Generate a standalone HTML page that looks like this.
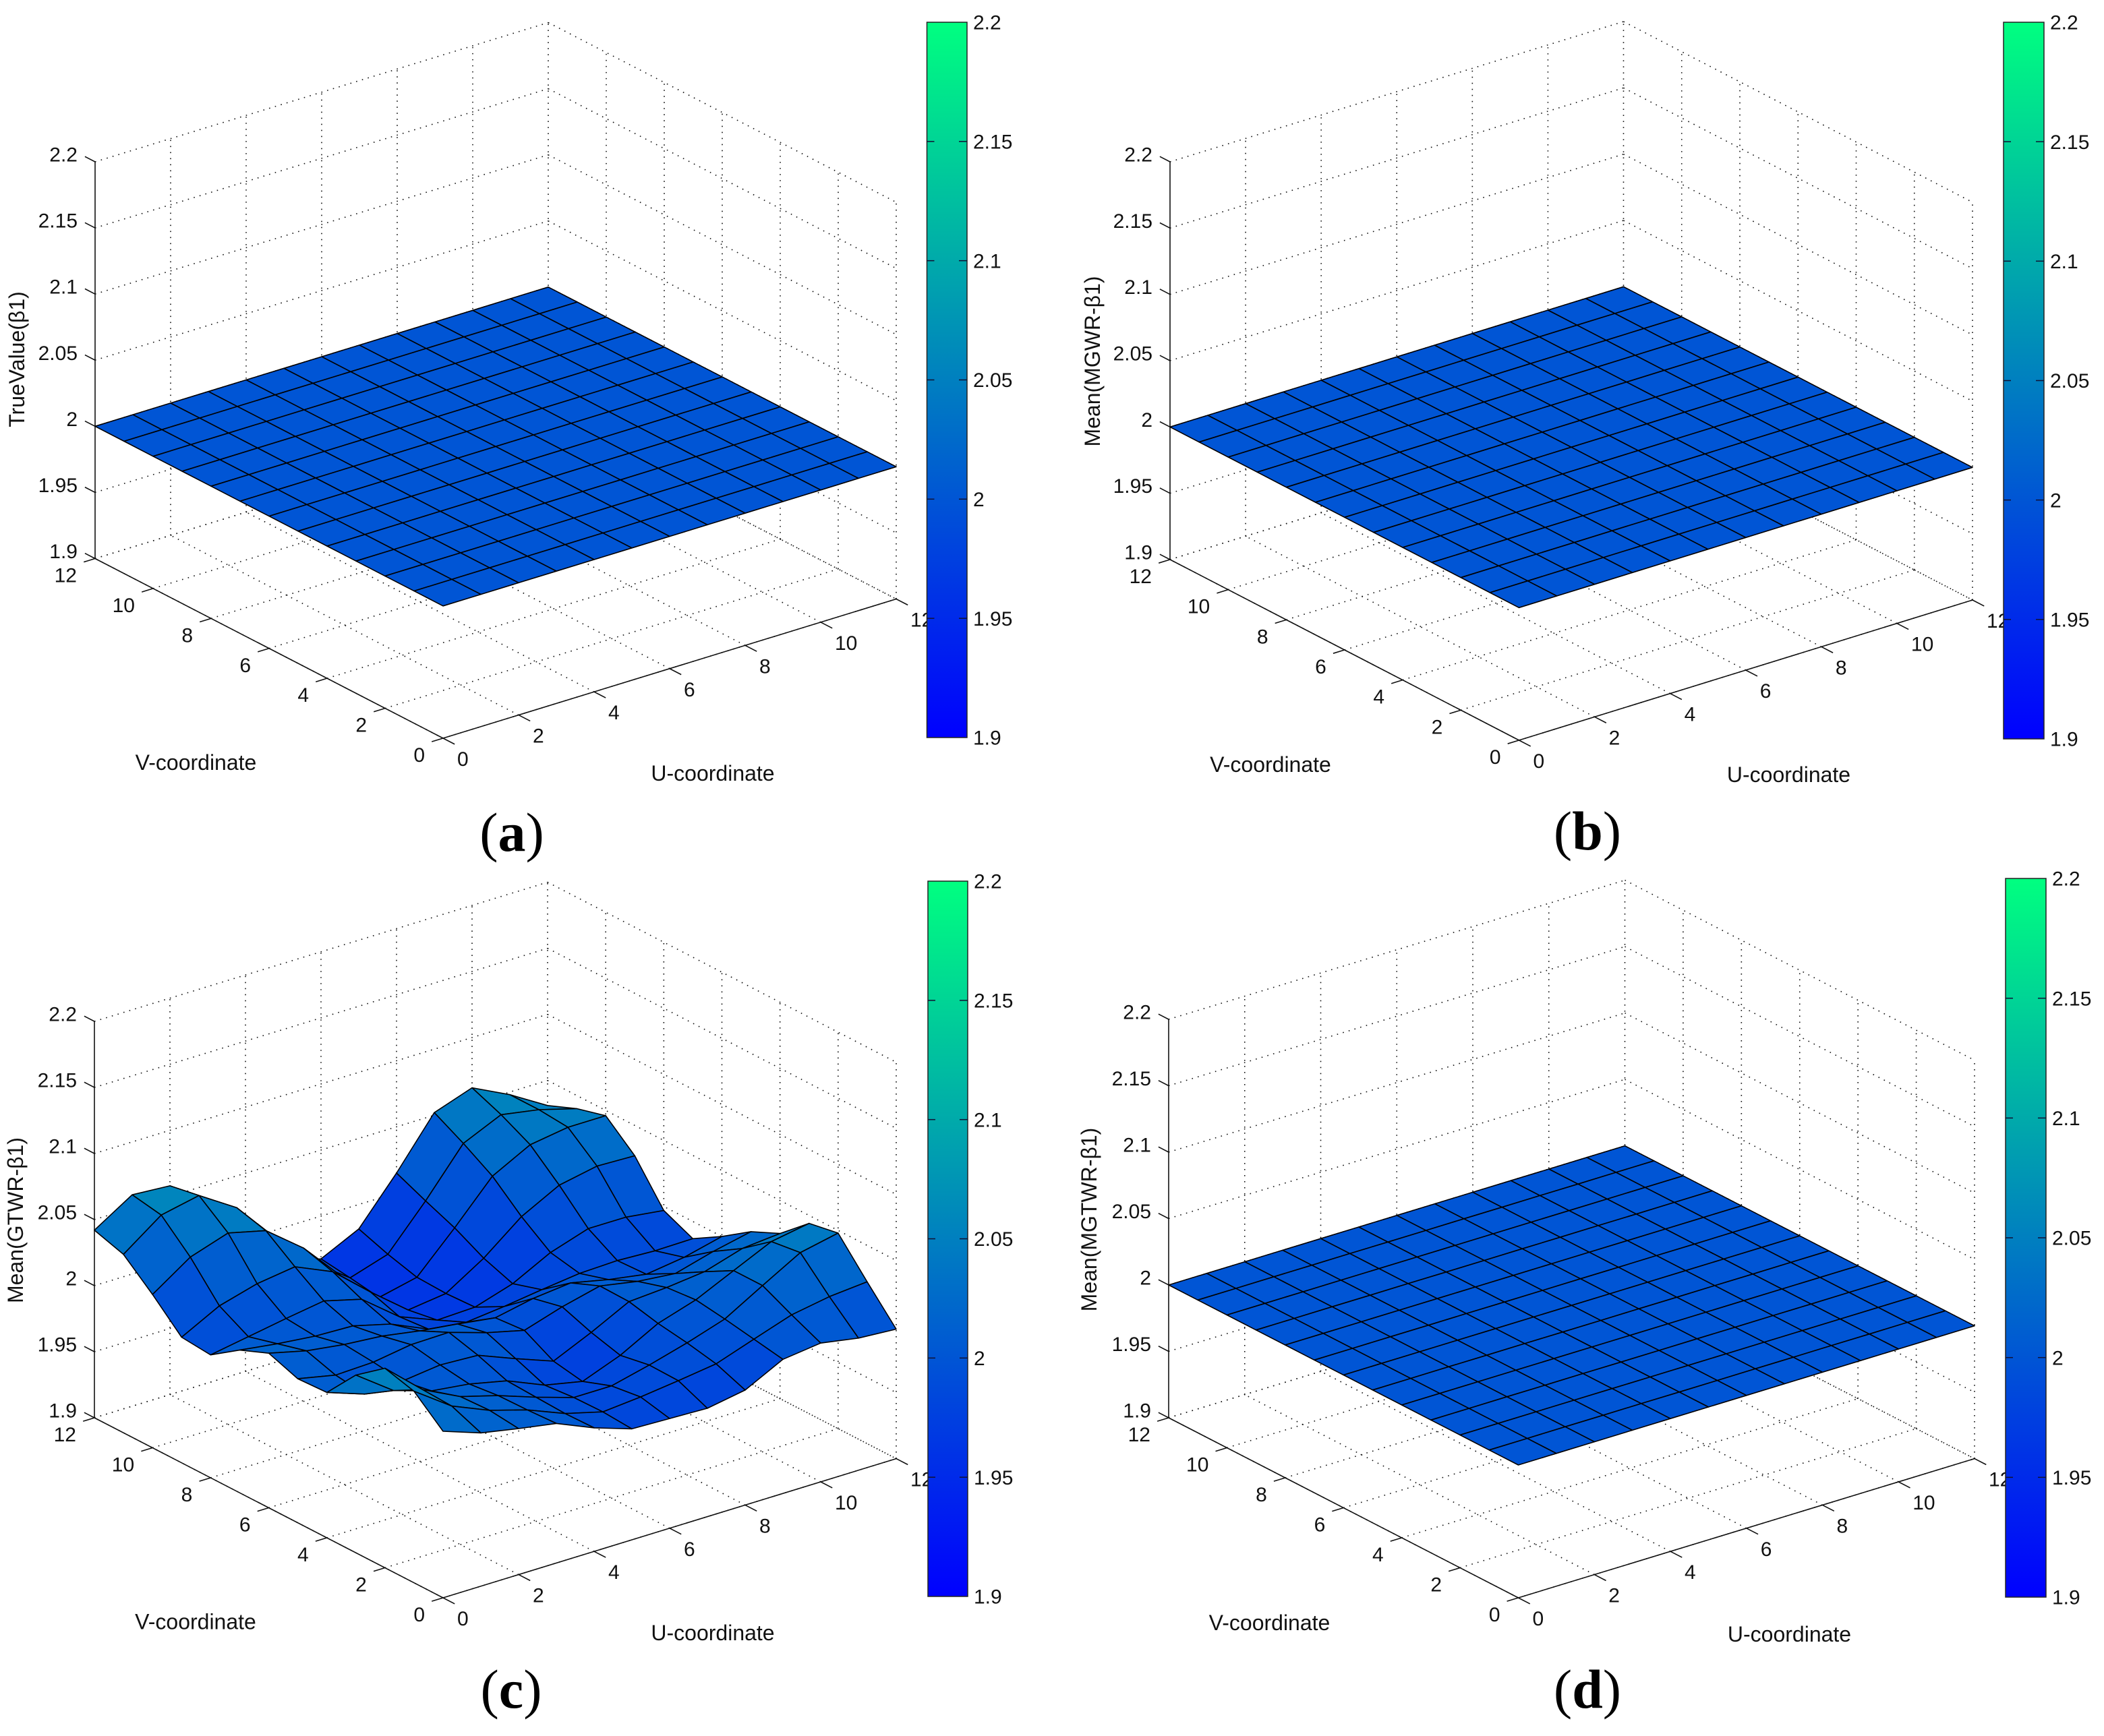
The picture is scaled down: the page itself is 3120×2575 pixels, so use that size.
<!DOCTYPE html>
<html lang="en">
<head>
<meta charset="utf-8">
<title>Surface plots of beta1 estimates</title>
<style>
html,body{margin:0;padding:0;background:#fff;}
svg{display:block;}
text{font-family:"Liberation Sans",Arial,sans-serif;fill:#111;}
.tick{font-size:30px;}
.title{font-size:32px;}
.cap{font-family:"Liberation Serif",serif;font-size:82px;fill:#000;}
.cap .l{font-weight:bold;}
</style>
</head>
<body>
<svg xmlns="http://www.w3.org/2000/svg" width="3120" height="2575" viewBox="0 0 3120 2575">
<defs>
<linearGradient id="winter" x1="0" y1="1" x2="0" y2="0">
<stop offset="0" stop-color="rgb(0,0,255)"/>
<stop offset="1" stop-color="rgb(0,255,128)"/>
</linearGradient>
</defs>

<g id="panel-a">
<g class="plot"></g>
<g class="bar"></g>
<text class="title" x="290.5" y="1142" text-anchor="middle">V-coordinate</text>
<text class="title" x="1057" y="1158" text-anchor="middle">U-coordinate</text>
<text class="title" transform="translate(36,533) rotate(-90)" text-anchor="middle">TrueValue(β1)</text>
<text class="cap" x="759" y="1262" text-anchor="middle">(<tspan class="l">a</tspan>)</text>
</g>

<g id="panel-b">
<g class="plot"></g>
<g class="bar"></g>
<text class="title" x="1884" y="1145" text-anchor="middle">V-coordinate</text>
<text class="title" x="2652.5" y="1160" text-anchor="middle">U-coordinate</text>
<text class="title" transform="translate(1631,536) rotate(-90)" text-anchor="middle">Mean(MGWR-β1)</text>
<text class="cap" x="2354" y="1260" text-anchor="middle">(<tspan class="l">b</tspan>)</text>
</g>

<g id="panel-c">
<g class="plot"></g>
<g class="bar"></g>
<text class="title" x="290" y="2416.5" text-anchor="middle">V-coordinate</text>
<text class="title" x="1057" y="2433" text-anchor="middle">U-coordinate</text>
<text class="title" transform="translate(34,1810) rotate(-90)" text-anchor="middle">Mean(GTWR-β1)</text>
<text class="cap" x="758" y="2533" text-anchor="middle">(<tspan class="l">c</tspan>)</text>
</g>

<g id="panel-d">
<g class="plot"></g>
<g class="bar"></g>
<text class="title" x="1882.5" y="2418" text-anchor="middle">V-coordinate</text>
<text class="title" x="2653.5" y="2435" text-anchor="middle">U-coordinate</text>
<text class="title" transform="translate(1626,1809) rotate(-90)" text-anchor="middle">Mean(MGTWR-β1)</text>
<text class="cap" x="2354" y="2533" text-anchor="middle">(<tspan class="l">d</tspan>)</text>
</g>
</svg>

<script>
// Axis ticks
const uTicks = [0, 2, 4, 6, 8, 10, 12];
const vTicks = [0, 2, 4, 6, 8, 10, 12];
const zTicks = [1.9, 1.95, 2, 2.05, 2.1, 2.15, 2.2];
const zTickLabels = ['1.9', '1.95', '2', '2.05', '2.1', '2.15', '2.2'];

// Surface values: one row per U = 0..12, one entry per V = 12..0
const trueBeta = [
[2,2,2,2,2,2,2,2,2,2,2,2,2],[2,2,2,2,2,2,2,2,2,2,2,2,2],[2,2,2,2,2,2,2,2,2,2,2,2,2],
[2,2,2,2,2,2,2,2,2,2,2,2,2],[2,2,2,2,2,2,2,2,2,2,2,2,2],[2,2,2,2,2,2,2,2,2,2,2,2,2],
[2,2,2,2,2,2,2,2,2,2,2,2,2],[2,2,2,2,2,2,2,2,2,2,2,2,2],[2,2,2,2,2,2,2,2,2,2,2,2,2],
[2,2,2,2,2,2,2,2,2,2,2,2,2],[2,2,2,2,2,2,2,2,2,2,2,2,2],[2,2,2,2,2,2,2,2,2,2,2,2,2],
[2,2,2,2,2,2,2,2,2,2,2,2,2]
];
const mgwrBeta = [
[2,2,2,2,2,2,2,2,2,2,2,2,2],[2,2,2,2,2,2,2,2,2,2,2,2,2],[2,2,2,2,2,2,2,2,2,2,2,2,2],
[2,2,2,2,2,2,2,2,2,2,2,2,2],[2,2,2,2,2,2,2,2,2,2,2,2,2],[2,2,2,2,2,2,2,2,2,2,2,2,2],
[2,2,2,2,2,2,2,2,2,2,2,2,2],[2,2,2,2,2,2,2,2,2,2,2,2,2],[2,2,2,2,2,2,2,2,2,2,2,2,2],
[2,2,2,2,2,2,2,2,2,2,2,2,2],[2,2,2,2,2,2,2,2,2,2,2,2,2],[2,2,2,2,2,2,2,2,2,2,2,2,2],
[2,2,2,2,2,2,2,2,2,2,2,2,2]
];
const gtwrBeta = [
[2.042,2.035,2.016,1.995,1.993,2.008,2.017,2.009,2.010,2.0345,2.051,2.045,2.026],
[2.060,2.056,2.0355,2.010,1.998,2.004,2.010,2.003,2.000,2.014,2.026,2.025,2.016],
[2.058,2.062,2.045,2.018,2.003,2.001,2.006,2.004,2.001,2.005,2.012,2.013,2.0105],
[2.030,2.044,2.038,2.022,2.0075,2.000,2.0036,2.0085,2.0045,2.0014,2.004,2.0045,2.0056],
[2.000,2.013,2.016,2.0095,2.000,1.9926,1.9988,2.009,2.003,1.995,1.994,1.993,1.9935],
[1.975,1.985,1.986,1.9854,1.978,1.980,1.9952,2.000,1.9917,1.983,1.985,1.9855,1.984],
[1.9676,1.9646,1.9611,1.963,1.9667,1.9764,1.9911,1.993,1.981,1.977,1.985,1.988,1.983],
[1.9815,1.9737,1.9676,1.9667,1.9677,1.9795,1.997,2.002,1.994,1.988,1.992,1.9915,1.982],
[2.015,2.0053,1.9962,1.9846,1.9767,1.9835,2.000,2.009,2.0085,2.0034,2.000,1.9955,1.987],
[2.052,2.040,2.0266,2.0073,1.9915,1.987,1.9937,2.0037,2.0104,2.0124,2.0093,2.0054,2.0015],
[2.062,2.053,2.0416,2.0223,2.0008,1.988,1.989,2.0009,2.0136,2.0258,2.0258,2.015,2.005],
[2.048,2.048,2.046,2.028,2.0007,1.9866,1.993,2.0088,2.0224,2.039,2.042,2.020,2.000],
[2.031,2.040,2.046,2.027,1.997,1.987,2.000,2.015,2.025,2.044,2.048,2.0225,1.998]
];
const mgtwrBeta = [
[2,2,2,2,2,2,2,2,2,2,2,2,2],[2,2,2,2,2,2,2,2,2,2,2,2,2],[2,2,2,2,2,2,2,2,2,2,2,2,2],
[2,2,2,2,2,2,2,2,2,2,2,2,2],[2,2,2,2,2,2,2,2,2,2,2,2,2],[2,2,2,2,2,2,2,2,2,2,2,2,2],
[2,2,2,2,2,2,2,2,2,2,2,2,2],[2,2,2,2,2,2,2,2,2,2,2,2,2],[2,2,2,2,2,2,2,2,2,2,2,2,2],
[2,2,2,2,2,2,2,2,2,2,2,2,2],[2,2,2,2,2,2,2,2,2,2,2,2,2],[2,2,2,2,2,2,2,2,2,2,2,2,2],
[2,2,2,2,2,2,2,2,2,2,2,2,2]
];

const NS = 'http://www.w3.org/2000/svg';
const zMin = 1.9, zMax = 2.2, domainMax = 12;

function winter(z) {
  const t = Math.max(0, Math.min(1, (z - zMin) / (zMax - zMin)));
  return 'rgb(0,' + Math.round(255 * t) + ',' + Math.round(255 - 127 * t) + ')';
}

function svgEl(tag, attrs, parent) {
  const el = document.createElementNS(NS, tag);
  for (const k in attrs) el.setAttribute(k, attrs[k]);
  parent.appendChild(el);
  return el;
}

function drawPanel(id, geo, matrix) {
  const root = document.getElementById(id);
  const plot = root.querySelector('.plot');
  const bar = root.querySelector('.bar');
  const du = [(geo.right[0] - geo.front[0]) / domainMax, (geo.right[1] - geo.front[1]) / domainMax];
  const dv = [(geo.left[0] - geo.front[0]) / domainMax, (geo.left[1] - geo.front[1]) / domainMax];
  const zScale = (geo.left[1] - geo.zTop) / (zMax - zMin);
  const P = function (u, v, z) {
    return [geo.front[0] + du[0] * u + dv[0] * v,
            geo.front[1] + du[1] * u + dv[1] * v - (z - zMin) * zScale];
  };
  const gridLine = function (a, b) {
    const el = svgEl('line', {x1: a[0], y1: a[1], x2: b[0], y2: b[1], stroke: '#111', 'stroke-width': 1.6, 'stroke-dasharray': '1.6 7.4'}, plot);
    
    
  };
  const axisLine = function (a, b, name) {
    const el = svgEl('line', {x1: a[0], y1: a[1], x2: b[0], y2: b[1], stroke: '#111', 'stroke-width': 1.6}, plot);
    
    
  };
  const label = function (x, y, txt, anchor, name) {
    const el = svgEl('text', {x: x, y: y, class: 'tick', 'text-anchor': anchor}, plot);
    el.textContent = txt;
    
    
  };

  // grid on walls and floor
  zTicks.forEach(function (z) {
    gridLine(P(0, domainMax, z), P(domainMax, domainMax, z));
    gridLine(P(domainMax, domainMax, z), P(domainMax, 0, z));
  });
  uTicks.forEach(function (u) {
    gridLine(P(u, 0, zMin), P(u, domainMax, zMin));
    if (u > 0) gridLine(P(u, domainMax, zMin), P(u, domainMax, zMax));
  });
  vTicks.forEach(function (v) {
    gridLine(P(0, v, zMin), P(domainMax, v, zMin));
    if (v < domainMax) gridLine(P(domainMax, v, zMin), P(domainMax, v, zMax));
  });

  // axes
  axisLine(P(0, domainMax, zMin), P(0, domainMax, zMax), 'z-axis');
  axisLine(P(0, 0, zMin), P(0, domainMax, zMin), 'v-axis');
  axisLine(P(0, 0, zMin), P(domainMax, 0, zMin), 'u-axis');

  zTicks.forEach(function (z, i) {
    const p = P(0, domainMax, z);
    axisLine(p, [p[0] + dv[0] * 0.35, p[1] + dv[1] * 0.35], 'z-tick');
    label(p[0] - 26, p[1] - 0.5, zTickLabels[i], 'end', 'z-tick-label');
  });
  vTicks.forEach(function (v) {
    const p = P(0, v, zMin);
    axisLine(p, [p[0] - du[0] * 0.3, p[1] - du[1] * 0.3], 'v-tick');
    label(p[0] - 27, p[1] + 35, String(v), 'end', 'v-tick-label');
  });
  uTicks.forEach(function (u) {
    const p = P(u, 0, zMin);
    axisLine(p, [p[0] - dv[0] * 0.4, p[1] - dv[1] * 0.4], 'u-tick');
    label(p[0] + 21, p[1] + 41, String(u), 'start', 'u-tick-label');
  });

  // surface: back corner (U=12, V=12) first, front corner (U=0, V=0) last
  const surf = svgEl('g', {}, plot);
  
  
  for (let w = 0; w < domainMax; w++) {
    for (let u = domainMax - 1; u >= 0; u--) {
      const v = domainMax - w;
      const a = P(u, v, matrix[u][w]);
      const b = P(u + 1, v, matrix[u + 1][w]);
      const c = P(u + 1, v - 1, matrix[u + 1][w + 1]);
      const d = P(u, v - 1, matrix[u][w + 1]);
      const cell = svgEl('polygon', {
        points: [a, b, c, d].map(function (q) { return q[0].toFixed(1) + ',' + q[1].toFixed(1); }).join(' '),
        fill: winter(matrix[u][w + 1]),
        stroke: '#000',
        'stroke-width': 1.6,
        'stroke-linejoin': 'round'
      }, surf);
      
      
    }
  }

  // colorbar
  const c = geo.bar;
  const rect = svgEl('rect', {x: c.x0, y: c.y0, width: c.x1 - c.x0, height: c.y1 - c.y0, fill: 'url(#winter)', stroke: '#222', 'stroke-width': 1.5}, bar);
  
  
  zTicks.forEach(function (z, i) {
    const y = c.y1 - (z - zMin) / (zMax - zMin) * (c.y1 - c.y0);
    if (i > 0 && i < zTicks.length - 1) {
      const t1 = svgEl('line', {x1: c.x0, y1: y, x2: c.x0 + 11, y2: y, stroke: '#113', 'stroke-width': 1.5}, bar);
      
      
      const t2 = svgEl('line', {x1: c.x1 - 12, y1: y, x2: c.x1, y2: y, stroke: '#113', 'stroke-width': 1.5}, bar);
      
      
    }
    const tx = svgEl('text', {x: c.x1 + 9, y: y + 10.7, class: 'tick'}, bar);
    tx.textContent = zTickLabels[i];
    
    
  });
}

drawPanel('panel-a', {left: [141, 828.5], front: [657, 1095], right: [1329, 888.5], zTop: 240,
  bar: {x0: 1374.5, x1: 1434, y0: 33, y1: 1094}}, trueBeta);
drawPanel('panel-b', {left: [1735, 830], front: [2252.5, 1098], right: [2925, 890], zTop: 240,
  bar: {x0: 2971, x1: 3031, y0: 33, y1: 1096}}, mgwrBeta);
drawPanel('panel-c', {left: [140, 2103], front: [657, 2370], right: [1329, 2163.6], zTop: 1515,
  bar: {x0: 1376, x1: 1435, y0: 1307, y1: 2368}}, gtwrBeta);
drawPanel('panel-d', {left: [1733, 2103], front: [2251.5, 2370], right: [2928, 2163.6], zTop: 1512,
  bar: {x0: 2974, x1: 3034, y0: 1303, y1: 2369}}, mgtwrBeta);
</script>
</body>
</html>
